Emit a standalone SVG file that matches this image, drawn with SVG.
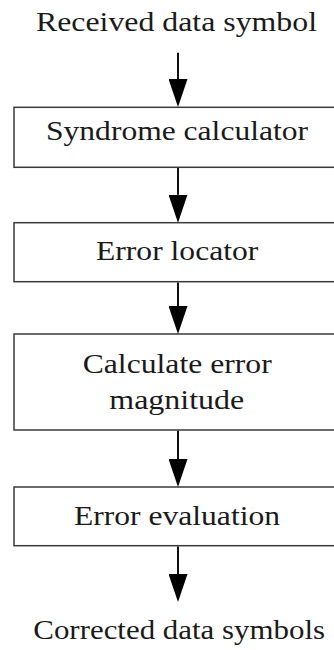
<svg xmlns="http://www.w3.org/2000/svg" width="334" height="650" viewBox="0 0 334 650">
  <style>
    .box { fill: #ffffff; stroke: #3a3a3a; stroke-width: 1.5; }
    .wire { stroke: #111111; stroke-width: 2; fill: none; }
  </style>
  <defs>
    <!-- filled arrowhead; base sits on the end of each connector -->
    <marker id="head" markerUnits="userSpaceOnUse" viewBox="0 -9.5 28 19" refX="0" refY="0" markerWidth="28" markerHeight="19" orient="auto">
      <path d="M0,-9.5 L28,0 L0,9.5 Z" fill="#000000"/>
    </marker>
  </defs>
  <rect width="334" height="650" fill="#ffffff"/>

  <!-- input / output labels -->
  <g id="input">
    <text font-family="Liberation Serif" font-size="28" fill="#1a1a1a" x="36" y="31" textLength="281" lengthAdjust="spacingAndGlyphs">Received data symbol</text>
  </g>
  <g id="output">
    <text font-family="Liberation Serif" font-size="28" fill="#1a1a1a" x="33.3" y="639" textLength="291.7" lengthAdjust="spacingAndGlyphs">Corrected data symbols</text>
  </g>

  <!-- processing stages (boxes run past the right edge) -->
  <g id="syndrome">
    <rect class="box" x="14" y="107.3" width="330" height="60"/>
    <text font-family="Liberation Serif" font-size="28" fill="#1a1a1a" x="46" y="140" textLength="262" lengthAdjust="spacingAndGlyphs">Syndrome calculator</text>
  </g>
  <g id="locator">
    <rect class="box" x="14" y="222.7" width="330" height="59"/>
    <text font-family="Liberation Serif" font-size="28" fill="#1a1a1a" x="96" y="260" textLength="162.3" lengthAdjust="spacingAndGlyphs">Error locator</text>
  </g>
  <g id="magnitude">
    <rect class="box" x="14" y="334" width="330" height="96"/>
    <text font-family="Liberation Serif" font-size="28" fill="#1a1a1a" x="82.7" y="372.5" textLength="189" lengthAdjust="spacingAndGlyphs">Calculate error</text>
    <text font-family="Liberation Serif" font-size="28" fill="#1a1a1a" x="109.3" y="409" textLength="135" lengthAdjust="spacingAndGlyphs">magnitude</text>
  </g>
  <g id="evaluation">
    <rect class="box" x="14" y="487" width="330" height="58.7"/>
    <text font-family="Liberation Serif" font-size="28" fill="#1a1a1a" x="74" y="525" textLength="206" lengthAdjust="spacingAndGlyphs">Error evaluation</text>
  </g>

  <!-- connectors -->
  <g id="connectors">
    <path class="wire" marker-end="url(#head)" d="M178,52.7 V79"/>
    <path class="wire" marker-end="url(#head)" d="M178,168 V194.7"/>
    <path class="wire" marker-end="url(#head)" d="M178,282.4 V306"/>
    <path class="wire" marker-end="url(#head)" d="M178,430.7 V459"/>
    <path class="wire" marker-end="url(#head)" d="M178,546.4 V574"/>
  </g>
</svg>
